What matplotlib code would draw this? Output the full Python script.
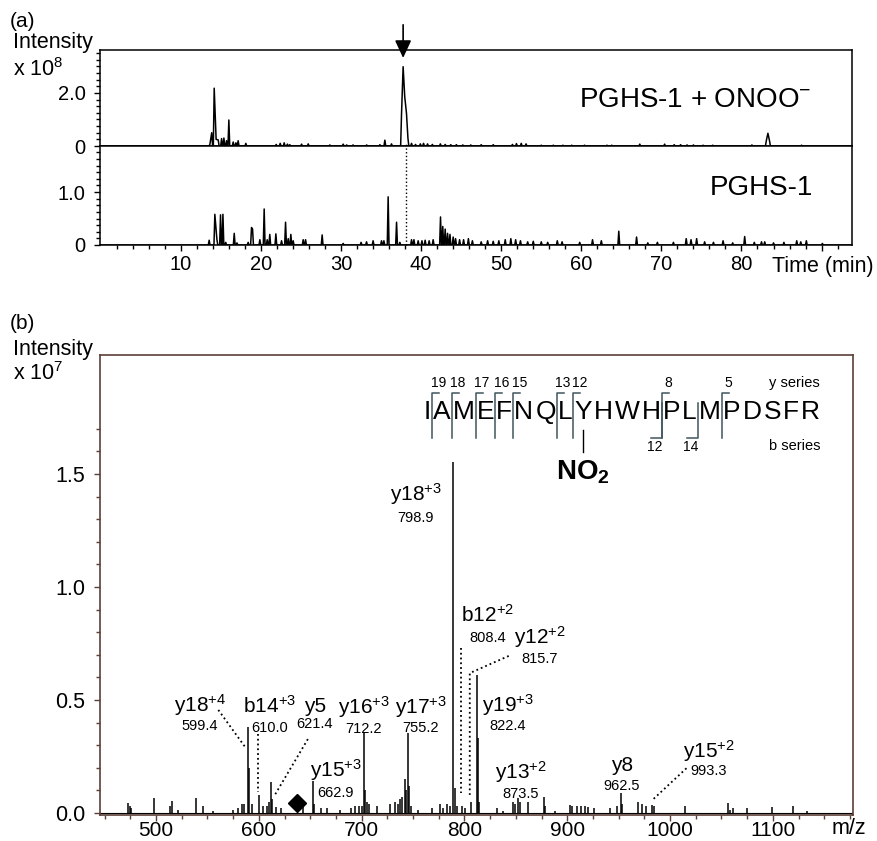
import numpy as np
import matplotlib.pyplot as plt
from matplotlib.ticker import FixedLocator, MultipleLocator
from matplotlib.font_manager import FontProperties, findfont, get_font

plt.rcParams['font.family'] = ['Liberation Sans', 'DejaVu Sans']
plt.rcParams['mathtext.fontset'] = 'custom'
plt.rcParams['mathtext.rm'] = 'Liberation Sans'
plt.rcParams['mathtext.it'] = 'Liberation Sans:italic'
plt.rcParams['mathtext.bf'] = 'Liberation Sans:bold'

# (a) chromatogram peaks, time (min) and intensity (x 1e8)
top_t = [13.62, 13.85, 14.16, 14.4, 14.66, 15.08, 15.37, 15.7, 15.99, 16.53, 16.87, 17.15,
         18.11, 21.9, 22.4, 22.9, 23.3, 23.6, 25.07, 25.9, 28.6, 30.26, 30.7, 31.5, 33.2,
         34.85, 35.47, 36.3, 37.55, 37.75, 37.95, 38.17, 38.35, 38.8, 39.3, 39.9, 40.3, 40.8,
         41.4, 42.4, 43.0, 43.7, 44.4, 45.2, 46.2, 47.5, 49.0, 51.4, 51.9, 52.5, 53.1, 55.0,
         56.5, 57.7, 58.8, 60.4, 63.2, 63.8, 67.3, 70.4, 71.6, 72.4, 73.2, 74.0, 75.2, 76.4,
         81.3, 83.1, 83.3, 83.5, 87.5]
top_h = [0.06, 0.5, 2.18, 0.25, 0.23, 0.28, 0.3, 0.2, 0.98, 0.15, 0.12, 0.2,
         0.1, 0.06, 0.1, 0.12, 0.07, 0.05, 0.07, 0.08, 0.04, 0.07, 0.04, 0.04, 0.04,
         0.05, 0.22, 0.08, 1.2, 2.99, 1.86, 1.23, 0.3, 0.1, 0.06, 0.08, 0.1, 0.08,
         0.06, 0.08, 0.06, 0.05, 0.05, 0.04, 0.04, 0.05, 0.05, 0.06, 0.09, 0.1, 0.08, 0.03,
         0.03, 0.03, 0.03, 0.03, 0.03, 0.03, 0.07, 0.07, 0.05, 0.05, 0.04, 0.04, 0.03, 0.03,
         0.04, 0.2, 0.48, 0.2, 0.03]

bot_t = [13.53, 14.24, 14.5, 14.95, 15.25, 15.6, 16.66, 17.0, 18.4, 18.82, 18.95, 19.86,
         20.4, 20.78, 21.1, 21.86, 22.57, 23.07, 23.4, 23.73, 24.02, 25.27, 25.57, 27.64,
         30.26, 32.5, 33.18, 34.0, 35.05, 35.35, 35.88, 36.93, 37.34, 38.8, 39.1, 39.63,
         40.1, 40.5, 41.0, 41.5, 42.42, 42.7, 43.0, 43.3, 43.6, 44.0, 44.3, 44.8, 45.3,
         45.9, 46.4, 47.5, 48.3, 49.0, 49.7, 50.5, 51.2, 51.8, 52.4, 53.3, 54.0, 55.0,
         55.8, 57.0, 57.6, 59.8, 61.4, 62.5, 64.68, 66.9, 68.3, 69.5, 71.5, 73.1, 73.7,
         74.4, 75.4, 76.5, 77.7, 78.9, 80.4, 81.6, 82.5, 82.9, 84.0, 85.3, 86.9, 87.4,
         88.1, 90.1]
bot_h = [0.09, 0.58, 0.1, 0.57, 0.58, 0.05, 0.22, 0.04, 0.05, 0.33, 0.3, 0.1,
         0.68, 0.1, 0.2, 0.21, 0.08, 0.43, 0.12, 0.2, 0.08, 0.1, 0.1, 0.19,
         0.03, 0.05, 0.06, 0.08, 0.08, 0.08, 0.91, 0.43, 0.05, 0.1, 0.1, 0.08,
         0.08, 0.09, 0.08, 0.1, 0.53, 0.35, 0.3, 0.22, 0.2, 0.15, 0.12, 0.1, 0.1,
         0.12, 0.08, 0.06, 0.08, 0.07, 0.08, 0.1, 0.12, 0.1, 0.08, 0.06, 0.07, 0.06,
         0.05, 0.08, 0.06, 0.05, 0.1, 0.08, 0.26, 0.15, 0.04, 0.05, 0.05, 0.12, 0.1,
         0.12, 0.06, 0.05, 0.08, 0.04, 0.16, 0.05, 0.06, 0.06, 0.04, 0.05, 0.08, 0.06,
         0.08, 0.03]

arrow_t = 37.75
mark_t = 38.05

# (b) MS/MS spectrum, m/z and intensity (x 1e7)
mz = [472.8, 474.5, 476, 498, 514, 515.6, 521, 538.6, 545.7, 555, 575, 580, 584, 586,
      589.5, 590.8, 593, 600.2, 604, 608, 610, 612, 613, 617, 622, 643, 652.7, 654, 660,
      666, 679, 690, 694, 697, 700, 702.3, 703.5, 705, 707, 715, 727.6, 732, 735, 737,
      739, 742, 743.5, 745, 746.5, 748, 755, 768.5, 776, 779, 783, 786, 789, 790.5, 793,
      797.7, 801, 806.4, 812, 813, 814.5, 831.7, 838, 847, 849, 852, 854, 862, 877, 878,
      888, 903, 905, 910, 913, 917, 920, 926, 941.6, 948.5, 952, 953, 969, 972.5, 977,
      982.5, 984, 1014.6, 1056.6, 1058, 1061, 1075, 1099, 1119.6, 1133]
inten = [0.045, 0.03, 0.02, 0.065, 0.03, 0.055, 0.015, 0.065, 0.03, 0.01, 0.015, 0.02, 0.04, 0.04,
         0.38, 0.2, 0.04, 0.08, 0.03, 0.03, 0.05, 0.137, 0.06, 0.025, 0.02, 0.04, 0.14, 0.04, 0.02,
         0.02, 0.015, 0.02, 0.03, 0.03, 0.03, 0.36, 0.1, 0.05, 0.04, 0.03, 0.04, 0.05, 0.04, 0.06,
         0.07, 0.15, 0.1, 0.355, 0.12, 0.03, 0.015, 0.02, 0.04, 0.02, 0.04, 0.03, 1.555, 0.11, 0.03,
         0.03, 0.02, 0.05, 0.61, 0.33, 0.05, 0.02, 0.01, 0.05, 0.04, 0.065, 0.05, 0.05, 0.07, 0.03,
         0.01, 0.035, 0.03, 0.03, 0.03, 0.03, 0.025, 0.02, 0.02, 0.03, 0.09, 0.04, 0.05, 0.04, 0.03,
         0.035, 0.03, 0.03, 0.045, 0.015, 0.02, 0.02, 0.025, 0.03, 0.01]

ion_name = ['y18', 'b14', 'y5', 'y16', 'y17', 'y15', 'y18', 'b12', 'y12', 'y19', 'y13', 'y8', 'y15']
ion_charge = ['+4', '+3', '', '+3', '+3', '+3', '+3', '+2', '+2', '+3', '+2', '', '+2']
ion_value = ['599.4', '610.0', '621.4', '712.2', '755.2', '662.9', '798.9', '808.4', '815.7',
             '822.4', '873.5', '962.5', '993.3']
ion_x = [542.8, 610.8, 654.5, 702.1, 757.5, 674.9, 752.7, 822.6, 873.2, 842.1, 854.7, 952.9, 1037.4]
ion_y = [0.446, 0.444, 0.449, 0.438, 0.438, 0.159, 1.38, 0.844, 0.747, 0.446, 0.15, 0.185, 0.246]
val_y = [0.384, 0.375, 0.393, 0.371, 0.375, 0.088, 1.305, 0.774, 0.681, 0.384, 0.083, 0.119, 0.185]

leader_x = [[560.6, 586.5], [599.1, 599.1], [647.7, 615.6], [796.4, 796.4],
            [843.1, 805.2, 805.2], [1016.0, 983.0]]
leader_y = [[0.456, 0.293], [0.35, 0.093], [0.327, 0.08], [0.73, 0.088],
            [0.695, 0.619, 0.08], [0.198, 0.058]]
diamond = (637, 0.044)

seq = 'IAMEFNQLYHWHPLMPDSFR'
y_ions = [19, 18, 17, 16, 15, 13, 12, 8, 5]
b_ions = [12, 14]
nitro_site = 9  # Tyr

W, H = 877, 841
fig = plt.figure(figsize=(W / 100, H / 100), dpi=100)


def box(l, t, r, b):
    return [l / W, 1 - b / H, (r - l) / W, (b - t) / H]


def trace(ts, hs, w=0.11, merge=0.26, end=93.8):
    xs, ys = [0.0], [0.0]
    prev = None
    for t, h in zip(ts, hs):
        if prev is None or t - prev > merge:
            if prev is not None:
                xs.append(prev + w); ys.append(0.0)
            xs.append(t - w); ys.append(0.0)
        xs.append(t); ys.append(h)
        prev = t
    xs += [prev + w, end]; ys += [0.0, 0.0]
    return xs, ys


# ---------------- panel (a)
ax_top = fig.add_axes(box(100, 50, 852, 146))
ax_bot = fig.add_axes(box(100, 146, 852, 245))
for ax in (ax_top, ax_bot):
    ax.set_xlim(-0.1, 93.8)
    for s in ax.spines.values():
        s.set_linewidth(1.1)
    ax.tick_params(which='both', direction='out', width=1, labelsize=14.5)
    ax.tick_params(which='major', length=4.5, pad=6)
    ax.tick_params(which='minor', length=3)

x, y = trace(top_t, top_h)
ax_top.plot(x, y, color='k', lw=1.1)
ax_top.set_ylim(0, 3.62)
ax_top.set_yticks([0, 2.0], ['0', '2.0'])
ax_top.yaxis.set_minor_locator(FixedLocator(np.arange(0, 3.51, 0.25)))
ax_top.tick_params(axis='x', which='both', bottom=False, labelbottom=False)
ax_top.text(88.7, 1.47, 'PGHS-1 + ONOO$^{\\mathregular{-}}$', ha='right', va='baseline', fontsize=20)
ax_top.annotate('', xy=(arrow_t, 3.32), xytext=(arrow_t, 4.57),
                arrowprops=dict(arrowstyle='-|>,head_length=0.43,head_width=0.2', color='k',
                                lw=1.2, mutation_scale=25, shrinkA=0, shrinkB=0),
                annotation_clip=False)

x, y = trace(bot_t, bot_h)
ax_bot.plot(x, y, color='k', lw=1.1)
ax_bot.set_ylim(0, 1.87)
ax_bot.set_yticks([0, 1.0], ['0', '1.0'])
ax_bot.yaxis.set_minor_locator(FixedLocator(np.arange(0, 1.76, 0.125)))
ax_bot.set_xticks(range(10, 100, 10), [str(v) for v in range(10, 90, 10)] + [''])
ax_bot.xaxis.set_minor_locator(FixedLocator(np.arange(2, 93, 2)))
ax_bot.tick_params(axis='x', pad=3)
ax_bot.plot([mark_t, mark_t], [0, 1.94], ls=':', lw=1, color='k', clip_on=False)
ax_bot.text(89.0, 0.94, 'PGHS-1', ha='right', va='baseline', fontsize=20)

fig.text(10 / W, 1 - 27 / H, '(a)', fontsize=15, va='baseline')
fig.text(13 / W, 1 - 48 / H, 'Intensity', fontsize=15.5, va='baseline')
fig.text(13 / W, 1 - 76 / H, 'x 10$^{\\mathregular{8}}$', fontsize=15.5, va='baseline')
fig.text(772 / W, 1 - 272 / H, 'Time (min)', fontsize=15.5, va='baseline')

# ---------------- panel (b)
frame_col = '#5b4038'
ax_b = fig.add_axes(box(100, 355, 853, 815))
xmin, xmax = 445.5, 1178
ax_b.set_xlim(xmin, xmax)
ax_b.set_ylim(-0.009, 2.027)
for s in ax_b.spines.values():
    s.set_linewidth(1.2)
    s.set_color(frame_col)
ax_b.tick_params(which='both', direction='out', color=frame_col, width=1, labelsize=15)
ax_b.tick_params(which='major', length=4.5)
ax_b.tick_params(which='minor', length=3)
ax_b.tick_params(axis='y', pad=6, labelsize=15.5)
ax_b.tick_params(axis='x', pad=0)
ax_b.set_yticks([0, 0.5, 1.0, 1.5], ['0.0', '0.5', '1.0', '1.5'])
ax_b.yaxis.set_minor_locator(FixedLocator(np.arange(0, 1.71, 0.1)))
ax_b.set_xticks(range(500, 1101, 100))
ax_b.xaxis.set_minor_locator(MultipleLocator(25))

ax_b.vlines(mz, 0, inten, color='k', lw=1.1)
ax_b.plot([xmin, xmax], [0, 0], color='k', lw=0.8)
ax_b.plot(*diamond, marker='D', color='k', ms=9)

for name, chg, val, x0, y0, yv in zip(ion_name, ion_charge, ion_value, ion_x, ion_y, val_y):
    label = name + ('$^{\\mathregular{%s}}$' % chg if chg else '')
    ax_b.text(x0, y0, label, ha='center', va='baseline', fontsize=15)
    ax_b.text(x0, yv, val, ha='center', va='center', fontsize=10.5)
for lx, ly in zip(leader_x, leader_y):
    ax_b.plot(lx, ly, ls=':', lw=1.3, color='k')

# peptide sequence with fragment cleavage marks
px_per = ax_b.bbox.width / (xmax - xmin)
font = get_font(findfont(FontProperties(family='Liberation Sans')))
font.set_size(19, fig.dpi)
adv = [font.load_char(ord(c)).linearHoriAdvance / 65536 for c in seq]
gap = (396 - sum(adv)) / (len(seq) - 1)
left = 324.0
starts, centers = [], []
for a in adv:
    starts.append(left)
    centers.append(left + a / 2)
    left += a + gap
to_x = lambda p: xmin + p / px_per
seq_base = 1.743
for c, cx in zip(seq, centers):
    ax_b.text(to_x(cx), seq_base, c, ha='center', va='baseline', fontsize=19)

cut_col = '#3f565e'
for n in y_ions:
    k = len(seq) - n
    cx = to_x(starts[k] - gap / 2)
    ax_b.plot([cx, cx, cx + 7 / px_per], [1.659, 1.858, 1.858], color=cut_col, lw=1.1)
    ax_b.text(cx + 6 / px_per, 1.903, str(n), ha='center', va='center', fontsize=10)
for n in b_ions:
    cx = to_x(starts[n] - gap / 2)
    ax_b.plot([cx, cx, cx - 11 / px_per], [1.814, 1.659, 1.659], color=cut_col, lw=1.1)
    ax_b.text(cx - 7 / px_per, 1.621, str(n), ha='center', va='center', fontsize=10)
seq_right = to_x(starts[-1] + adv[-1])
ax_b.text(seq_right, 1.903, 'y series', ha='right', va='center', fontsize=10.5)
ax_b.text(seq_right, 1.624, 'b series', ha='right', va='center', fontsize=10.5)
ny = to_x(centers[nitro_site - 1])
ax_b.plot([ny, ny], [1.695, 1.597], color='k', lw=1)
ax_b.text(ny, 1.478, 'NO$_{\\mathbf{2}}$', ha='center', va='baseline', fontsize=20,
          fontweight='bold')

fig.text(10 / W, 1 - 329 / H, '(b)', fontsize=15, va='baseline')
fig.text(13 / W, 1 - 355 / H, 'Intensity', fontsize=15.5, va='baseline')
fig.text(13 / W, 1 - 380 / H, 'x 10$^{\\mathregular{7}}$', fontsize=15.5, va='baseline')
fig.text(832 / W, 1 - 834 / H, 'm/z', fontsize=15.5, va='baseline')

fig.savefig('out.png', dpi=100)
